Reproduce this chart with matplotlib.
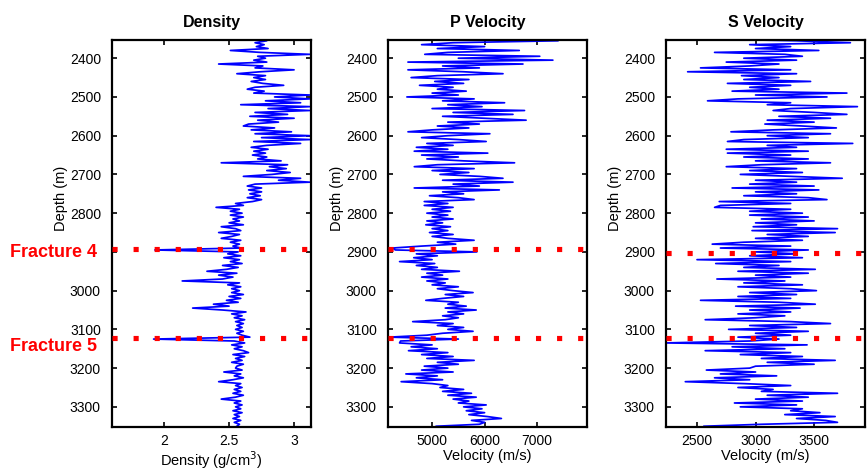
"""Well log panels: density, P and S velocity against depth, with the fractures marked."""

import numpy as np
from matplotlib import pyplot as plt

plt.rcParams["font.family"] = ["Liberation Sans", "DejaVu Sans"]

# Log samples every 5 m from 2350 m to 3350 m
DEPTH = np.arange(2350, 3351, 5)

DENSITY = [
    2.72, 2.79, 2.70, 2.77, 2.71, 2.80, 2.51, 2.74, 3.12, 2.72,  # 2350
    2.78, 2.69, 2.79, 2.42, 2.76, 2.70, 3.00, 2.74, 2.56, 2.78,  # 2400
    2.69, 2.78, 2.67, 2.76, 2.92, 2.70, 2.64, 2.77, 2.69, 3.12,  # 2450
    2.85, 3.12, 2.78, 3.05, 2.59, 3.12, 2.80, 3.12, 2.70, 2.95,  # 2500
    2.66, 3.00, 2.72, 2.88, 2.65, 2.61, 2.85, 2.67, 2.98, 2.70,  # 2550
    3.12, 2.75, 3.12, 2.69, 3.05, 2.79, 2.67, 2.80, 2.69, 2.78,  # 2600
    2.68, 2.79, 2.72, 2.90, 2.44, 2.95, 2.81, 2.94, 2.79, 2.97,  # 2650
    2.83, 2.61, 3.05, 2.88, 3.12, 2.70, 2.64, 2.75, 2.65, 2.75,  # 2700
    2.66, 2.74, 2.64, 2.75, 2.68, 2.55, 2.61, 2.40, 2.58, 2.51,  # 2750
    2.60, 2.51, 2.61, 2.53, 2.58, 2.50, 2.61, 2.44, 2.55, 2.59,  # 2800
    2.42, 2.58, 2.52, 2.44, 2.59, 2.51, 2.58, 2.53, 2.59, 1.93,  # 2850
    2.57, 2.49, 2.59, 2.46, 2.58, 2.51, 2.60, 2.45, 2.57, 2.48,  # 2900
    2.33, 2.56, 2.42, 2.53, 2.45, 2.14, 2.58, 2.49, 2.59, 2.52,  # 2950
    2.58, 2.52, 2.61, 2.50, 2.59, 2.48, 2.57, 2.38, 2.50, 2.22,  # 3000
    2.45, 2.63, 2.52, 2.60, 2.54, 2.62, 2.55, 2.61, 2.56, 2.60,  # 3050
    2.55, 2.61, 2.56, 2.60, 2.66, 1.92, 2.54, 2.62, 2.52, 2.60,  # 3100
    2.54, 2.61, 2.65, 2.53, 2.62, 2.55, 2.60, 2.52, 2.61, 2.56,  # 3150
    2.55, 2.60, 2.46, 2.59, 2.54, 2.61, 2.53, 2.42, 2.59, 2.55,  # 3200
    2.60, 2.54, 2.59, 2.53, 2.61, 2.55, 2.44, 2.59, 2.54, 2.60,  # 3250
    2.55, 2.59, 2.53, 2.60, 2.54, 2.58, 2.53, 2.59, 2.54, 2.58,  # 3300
    2.56,
]

P_VELOCITY = [
    4200, 7400, 5400, 4800, 6000, 5100, 6660, 5300, 4860, 7050,  # 2350
    5500, 7300, 4540, 6730, 5200, 5900, 4540, 5600, 6350, 5100,  # 2400
    4600, 5700, 5050, 5600, 4760, 5400, 5100, 5650, 5000, 5500,  # 2450
    4520, 5800, 5200, 6380, 5300, 5950, 5000, 6760, 5400, 6540,  # 2500
    5200, 6000, 6790, 5300, 5900, 5100, 5700, 5000, 4540, 6100,  # 2550
    5300, 4800, 5500, 6030, 4900, 5400, 4700, 5300, 4660, 6060,  # 2600
    4800, 5500, 4900, 5600, 6570, 5100, 4660, 5800, 5000, 5700,  # 2650
    5150, 5900, 6350, 5200, 6540, 5400, 5900, 4660, 6280, 5200,  # 2700
    5600, 4950, 5500, 5800, 4850, 5300, 4850, 5400, 5000, 5350,  # 2750
    4900, 5300, 5000, 5400, 4900, 5200, 4880, 5350, 5000, 5300,  # 2800
    4950, 5400, 5000, 5300, 5800, 5100, 5450, 4800, 4250, 4300,  # 2850
    5850, 4700, 5100, 4650, 5000, 4380, 5050, 4700, 5100, 4800,  # 2900
    5520, 4900, 5200, 4800, 5300, 4900, 5250, 5000, 5500, 5100,  # 2950
    5400, 5780, 5250, 5600, 5200, 4880, 5500, 5300, 5650, 5250,  # 3000
    5840, 5300, 5600, 5200, 5500, 5250, 4630, 5400, 5100, 5600,  # 3050
    5300, 5780, 5200, 4900, 4190, 5500, 4400, 4380, 5000, 4600,  # 3100
    5100, 4550, 5300, 4800, 5400, 4900, 5800, 5100, 5500, 4850,  # 3150
    5300, 4800, 5400, 4500, 5100, 4700, 5200, 4410, 5000, 5300,  # 3200
    5150, 5600, 5200, 5750, 5300, 5840, 5400, 5700, 5500, 6030,  # 3250
    5600, 5950, 5650, 6000, 5700, 6050, 6320, 5750, 6000, 5900,  # 3300
    5080,
]

S_VELOCITY = [
    2500, 3350, 3810, 2950, 3300, 3000, 3540, 2650, 3250, 3400,  # 2350
    2900, 3350, 2750, 3200, 2950, 2530, 3300, 2420, 3350, 2880,  # 2400
    3200, 2900, 3470, 2760, 3300, 2950, 3200, 2800, 3780, 3000,  # 2450
    3610, 2850, 2590, 3300, 3100, 3870, 3300, 3150, 3500, 3780,  # 2500
    3200, 3640, 3100, 3500, 3080, 3400, 3690, 3150, 2790, 3640,  # 2550
    3100, 3450, 2900, 2760, 3830, 3100, 3350, 2750, 3450, 2760,  # 2600
    3300, 2900, 3450, 3000, 3640, 3050, 2750, 3350, 2950, 3400,  # 2650
    2870, 3300, 3740, 3000, 3350, 2950, 3500, 2800, 3540, 3000,  # 2700
    3350, 2900, 3450, 3610, 2690, 3300, 2700, 2650, 3300, 2950,  # 2750
    3400, 2950, 3450, 3050, 3500, 3000, 3350, 2980, 3700, 2970,  # 2800
    3680, 3100, 3450, 3000, 3400, 2900, 2630, 3300, 2700, 3450,  # 2850
    3000, 3350, 2950, 3400, 2500, 3300, 2660, 3200, 2900, 3510,  # 2900
    2850, 3450, 3000, 3300, 2670, 3250, 2900, 3400, 2850, 3300,  # 2950
    3520, 2950, 3350, 2850, 3300, 2530, 3200, 3510, 2830, 3380,  # 3000
    2950, 3300, 2850, 3250, 3000, 2570, 3300, 3640, 2950, 3350,  # 3050
    2770, 3450, 3000, 3300, 2850, 3200, 2950, 2230, 3440, 2800,  # 3100
    3250, 2570, 3300, 2870, 3400, 3050, 3680, 3100, 3500, 3000,  # 3150
    2950, 2580, 3000, 2700, 3180, 2650, 2950, 2400, 2900, 3300,  # 3200
    2850, 3150, 3050, 3700, 3100, 3450, 3000, 3400, 2820, 3350,  # 3250
    2870, 3400, 3300, 3550, 3250, 3680, 3350, 3600, 3700, 3050,  # 3300
    2560,
]

TITLES = ["Density", "P Velocity", "S Velocity"]
XLABELS = ["Density (g/cm$^3$)", "Velocity (m/s)", "Velocity (m/s)"]
XLIMS = [(1.6, 3.13), (4160, 7950), (2235, 3935)]
XTICKS = [[2, 2.5, 3], [5000, 6000, 7000], [2500, 3000, 3500]]
XTICKLABELS = [["2", "2.5", "3"], ["5000", "6000", "7000"], ["2500", "3000", "3500"]]
YTICKS = [2400, 2500, 2600, 2700, 2800, 2900, 3000, 3100, 3200, 3300]
YLIM = (3352, 2353)

FRACTURE_NAMES = ["Fracture 4", "Fracture 5"]
FRACTURE_DEPTHS = [[2893, 3123], [2893, 3123], [2902, 3123]]
# baseline of the red labels, pixels from the top of the figure
FRACTURE_LABEL_BASE_PX = [257, 351]

FIG_W, FIG_H = 867, 470
AX_LEFT_PX = [112, 388, 666]
AX_WIDTH_PX = 199
AX_TOP_PX, AX_BOTTOM_PX = 40, 427


def main():
    """Draw the three log panels and save them."""
    fig = plt.figure(figsize=(FIG_W / 100, FIG_H / 100), dpi=100)
    logs = [DENSITY, P_VELOCITY, S_VELOCITY]
    for i, values in enumerate(logs):
        assert len(values) == len(DEPTH)
        ax = fig.add_axes(
            [
                AX_LEFT_PX[i] / FIG_W,
                1 - AX_BOTTOM_PX / FIG_H,
                AX_WIDTH_PX / FIG_W,
                (AX_BOTTOM_PX - AX_TOP_PX) / FIG_H,
            ]
        )
        ax.plot(values, DEPTH, color="#0000ff", lw=1.25)
        for d in FRACTURE_DEPTHS[i]:
            ax.axhline(
                d,
                color="#ff0000",
                lw=3.7,
                linestyle=(0, (1, 3.1)),
                zorder=5,
            )
        ax.set_xlim(*XLIMS[i])
        ax.set_ylim(*YLIM)
        ax.set_xticks(XTICKS[i])
        ax.set_xticklabels(XTICKLABELS[i])
        ax.set_yticks(YTICKS)
        ylabels = [str(t) for t in YTICKS]
        if i == 0:
            # the fracture 4 label sits where 2900 would be
            ylabels[YTICKS.index(2900)] = ""
        ax.set_yticklabels(ylabels)
        ax.tick_params(
            direction="in",
            top=True,
            right=True,
            length=3.5,
            width=1.2,
            labelsize=10,
        )
        ax.tick_params(axis="x", pad=5)
        ax.tick_params(axis="y", pad=8)
        for spine in ax.spines.values():
            spine.set_linewidth(1.6)
        ax.set_title(TITLES[i], fontsize=11.5, fontweight="bold", pad=9)
        ax.set_xlabel(XLABELS[i], fontsize=10.5, labelpad=1)
        ax.set_ylabel("Depth (m)", fontsize=10.5, labelpad=1, y=0.59)

    # Fracture labels on the left of the first panel
    for name, base_px in zip(FRACTURE_NAMES, FRACTURE_LABEL_BASE_PX):
        fig.text(
            10 / FIG_W,
            1 - base_px / FIG_H,
            name,
            color="#ff0000",
            fontsize=13,
            fontweight="bold",
            va="baseline",
            ha="left",
        )

    fig.savefig("out.png", dpi=100)
    plt.close("all")


if __name__ == "__main__":
    main()
